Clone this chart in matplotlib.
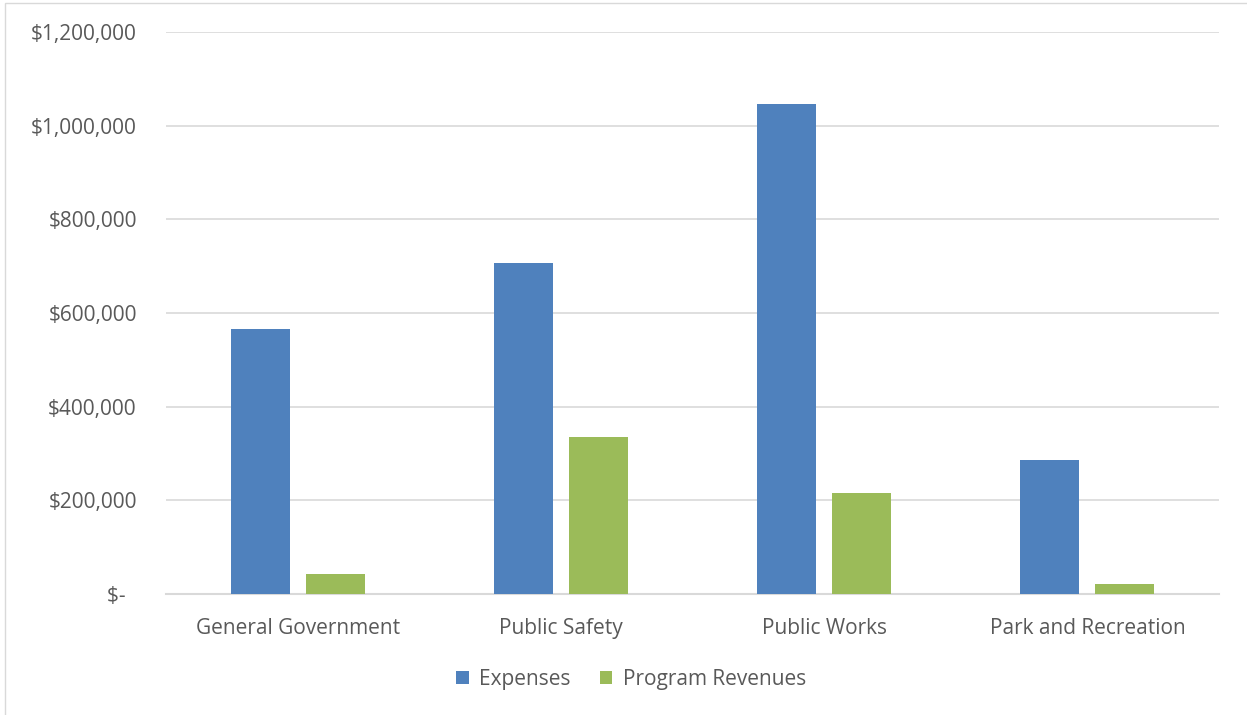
import matplotlib.pyplot as plt
import matplotlib.ticker as mticker
import numpy as np

categories = ["General Government", "Public Safety", "Public Works", "Park and Recreation"]
expenses = [566000, 707000, 1047000, 287000]
revenues = [43000, 336000, 216000, 21000]

plt.rcParams['font.family'] = ['Open Sans', 'DejaVu Sans']
txt = '#595959'

fig = plt.figure(figsize=(12.47, 7.15), dpi=100)
ax = fig.add_axes([166/1247, 1-594/715, (1219-166)/1247, (594-32)/715])

# outer chart border
fig.patches.append(plt.Rectangle((5/1247, -0.01), 1.1, 1-3/715+0.01, transform=fig.transFigure,
                                 fill=False, edgecolor='#D9D9D9', linewidth=1))

x = np.arange(len(categories))
w = 0.224
ax.bar(x - 0.1425, expenses, w, color='#4F81BD', label='Expenses', zorder=3)
ax.bar(x + 0.1425, revenues, w, color='#9BBB59', label='Program Revenues', zorder=3)

ax.set_xlim(-0.5, 3.5)
ax.set_ylim(0, 1200000)
ax.set_yticks(np.arange(0, 1200001, 200000))

def fmt(v, pos):
    return '$-  ' if v == 0 else f'${v:,.0f}'
ax.yaxis.set_major_formatter(mticker.FuncFormatter(fmt))

ax.grid(axis='y', color='#D9D9D9', linewidth=1.2, zorder=0)
for s in ['top', 'right', 'left']:
    ax.spines[s].set_visible(False)
ax.spines['bottom'].set_color('#D9D9D9')
ax.spines['bottom'].set_linewidth(1.5)
ax.tick_params(axis='both', length=0, labelsize=15, colors=txt)
ax.tick_params(axis='y', pad=21)
ax.tick_params(axis='x', pad=17)
ax.set_xticks(x)
ax.set_xticklabels(categories)

h, l = ax.get_legend_handles_labels()
leg = fig.legend(h, l, loc='center', bbox_to_anchor=(631/1247, 1-679/715), ncol=2, frameon=False,
                 fontsize=15, handlelength=0.6, handleheight=0.6, handletextpad=0.5, columnspacing=1.4)
for t in leg.get_texts():
    t.set_color(txt)

fig.savefig('out.png', dpi=100)
